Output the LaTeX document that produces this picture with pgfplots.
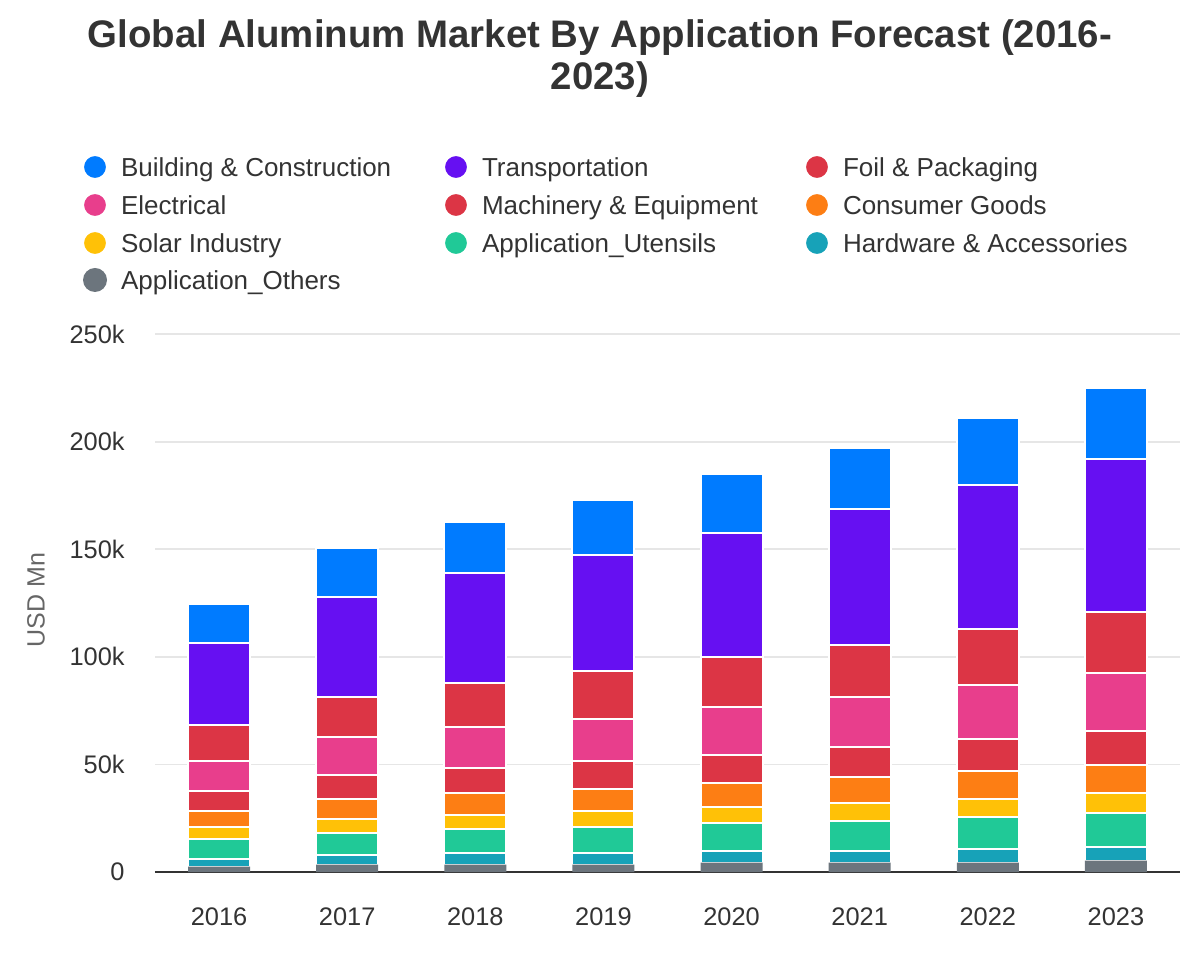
\documentclass[border=0pt]{standalone}
\usepackage{pgfplots}
\pgfplotsset{compat=1.18}
\usepackage{pgfplotstable}
\usepackage{fontspec}
\setmainfont{Liberation Sans}
\definecolor{cBuild}{HTML}{007BFF}
\definecolor{cTrans}{HTML}{6610F2}
\definecolor{cFoil}{HTML}{DC3545}
\definecolor{cElec}{HTML}{E83E8C}
\definecolor{cMach}{HTML}{DC3545}
\definecolor{cCons}{HTML}{FD7E14}
\definecolor{cSolar}{HTML}{FFC107}
\definecolor{cUten}{HTML}{20C997}
\definecolor{cHard}{HTML}{17A2B8}
\definecolor{cOther}{HTML}{6C757D}
\definecolor{txt}{HTML}{333333}
\definecolor{gridc}{HTML}{E6E6E6}
\definecolor{lab}{HTML}{666666}

\pgfplotstableread{
x Others Hardware Utensils Solar Consumer Machinery Electrical Foil Transport Building
0 2500 3700 9300 5600 7400 9300 13900 16700 38100 18000
1 3400 4600 10200 6500 9300 11200 17700 18600 46500 22600
2 3400 5600 11200 6500 10200 11200 19500 20400 51100 23600
3 3400 5600 12100 7400 10200 13000 19500 22300 53900 25400
4 4300 5600 13000 7400 11200 13000 22300 23200 57600 27300
5 4300 5600 13900 8400 12100 13900 23200 24200 63200 28200
6 4300 6500 14900 8400 13000 14900 25100 26000 66900 31000
7 5300 6500 15800 9300 13000 15800 27000 27900 71300 33100
}\datatable

\begin{document}
\begin{tikzpicture}
\path[use as bounding box] (0,0) rectangle (600pt,480pt);
\node[align=center, font=\bfseries\fontsize{19.2}{21}\selectfont, text=txt] at (300pt,450.5pt) {Global Aluminum Market By Application Forecast (2016-\\2023)};
\begin{axis}[
  at={(77.5pt,44pt)}, anchor=south west,
  scale only axis, width=512.5pt, height=269pt,
  ybar stacked, bar width=31pt,
  xmin=-0.5, xmax=7.5, ymin=0, ymax=250000,
  xtick={0,1,2,3,4,5,6,7},
  xticklabels={2016,2017,2018,2019,2020,2021,2022,2023},
  ytick={50000,100000,150000,200000,250000},
  yticklabels={50k,100k,150k,200k,250k},
  extra y ticks={0}, extra y tick labels={0},
  extra y tick style={grid style={color=txt, line width=1pt}},
  scaled y ticks=false,
  /pgf/number format/assume math mode=true,
  axis line style={draw=none},
  tick style={draw=none}, major tick length=0pt,
  ymajorgrids, grid style={color=gridc, line width=0.9pt},
  yticklabel style={font=\fontsize{12.7}{15}\selectfont, text=txt, inner xsep=0pt, xshift=-15pt},
  xticklabel style={font=\fontsize{12.7}{15}\selectfont, text=txt, anchor=north, inner ysep=0pt, yshift=-17.5pt},
  ylabel={USD Mn},
  ylabel style={at={(axis description cs:-0.1161,0.5056)}, anchor=center, font=\fontsize{12.5}{15}\selectfont, text=lab},
  legend columns=3, reverse legend,
  legend cell align=left,
  legend image code/.code={\fill[#1] (6pt,0pt) circle (6pt);},
  legend style={at={(-0.07122,1.3346)}, anchor=north west, draw=none, fill=none,
    inner sep=0pt, outer sep=0pt, row sep=6pt,
    font=\fontsize{13}{15}\selectfont, text=txt,
    nodes={inner xsep=0pt, inner ysep=0pt, text height=10.6pt, text depth=1.4pt},
    /tikz/every odd column/.append style={column sep=6.5pt}},
]
\addplot[fill=cOther, draw=none] table[x=x, y=Others] {\datatable};
\addlegendentry{\makebox[161pt][l]{Application\_Others}}
\addplot[fill=cHard, draw=white, line width=1pt] table[x=x, y=Hardware] {\datatable};
\addlegendentry{\makebox[161pt][l]{Hardware \& Accessories}}
\addplot[fill=cUten, draw=white, line width=1pt] table[x=x, y=Utensils] {\datatable};
\addlegendentry{\makebox[161pt][l]{Application\_Utensils}}
\addplot[fill=cSolar, draw=white, line width=1pt] table[x=x, y=Solar] {\datatable};
\addlegendentry{\makebox[161pt][l]{Solar Industry}}
\addplot[fill=cCons, draw=white, line width=1pt] table[x=x, y=Consumer] {\datatable};
\addlegendentry{\makebox[161pt][l]{Consumer Goods}}
\addplot[fill=cMach, draw=white, line width=1pt] table[x=x, y=Machinery] {\datatable};
\addlegendentry{\makebox[161pt][l]{Machinery \& Equipment}}
\addplot[fill=cElec, draw=white, line width=1pt] table[x=x, y=Electrical] {\datatable};
\addlegendentry{\makebox[161pt][l]{Electrical}}
\addplot[fill=cFoil, draw=white, line width=1pt] table[x=x, y=Foil] {\datatable};
\addlegendentry{\makebox[161pt][l]{Foil \& Packaging}}
\addplot[fill=cTrans, draw=white, line width=1pt] table[x=x, y=Transport] {\datatable};
\addlegendentry{\makebox[161pt][l]{Transportation}}
\addplot[fill=cBuild, draw=white, line width=1pt] table[x=x, y=Building] {\datatable};
\addlegendentry{\makebox[161pt][l]{Building \& Construction}}
\end{axis}
\end{tikzpicture}
\end{document}
